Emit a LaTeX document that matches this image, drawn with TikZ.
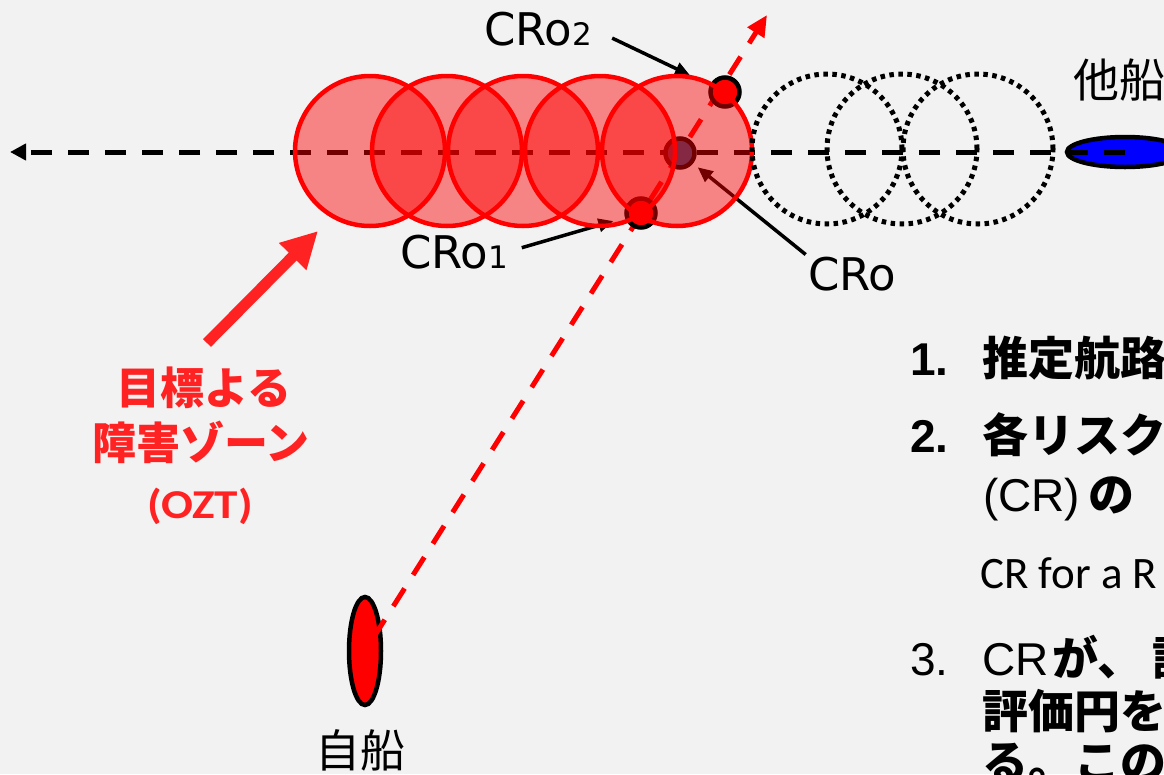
\documentclass[tikz,border=0pt]{standalone}
\usepackage{fontspec}
\usetikzlibrary{arrows.meta,shapes.geometric}
\newfontfamily\dvfont{DejaVu Sans}
\newfontfamily\libfont{Liberation Sans}
\newfontfamily\calfont{Carlito}
\newfontfamily\jpfont{Noto Sans CJK JP}
\definecolor{bgcol}{HTML}{F2F2F2}
\definecolor{oztcol}{RGB}{255,34,34}
\definecolor{crocol}{HTML}{1F497D}
\newcommand{\setfs}[1]{\fontsize{#1pt}{#1pt}\selectfont}
\begin{document}
\begin{tikzpicture}[x=1pt,y=-1pt,
  zone/.style={draw=red, line width=4.5pt, fill=red, fill opacity=0.45},
  ghost/.style={draw=black, line width=5pt, dash pattern=on 4.5pt off 4.5pt},
  track/.style={line width=5pt, dash pattern=on 21pt off 16pt},
  crmark/.style={circle, draw=black, line width=4.5pt, minimum size=29pt, inner sep=0pt, fill=red},
  lbl/.style={draw=black, line width=3.5pt, -{Triangle[length=15pt,width=13pt]}},
  ship/.style={ellipse, draw=black, line width=4.5pt, inner sep=0pt},
  txt/.style={inner sep=0pt, anchor=base west},
  cjkB/.style={font={\jpfont\bfseries\setfs{46}}},
  latB/.style={font={\libfont\bfseries\setfs{46}}},
  latR/.style={font={\libfont\setfs{46}}}]
\useasboundingbox (0,0) rectangle (1164,774);
\clip (0,0) rectangle (1164,774);
\fill[bgcol] (0,0) rectangle (1164,774);

% ships
\node[ship, fill=blue, minimum width=116pt, minimum height=30pt] (other) at (1125,152) {};
\node[ship, fill=red, minimum width=32pt, minimum height=108pt] (own) at (365,651) {};
\coordinate (ltip) at (10,152);
\coordinate (rtip) at (767,15);

% tracks
\draw[track, draw=black, -{Triangle[length=16pt,width=16pt]}] (other.center) -- (ltip);
\draw[track, draw=red, dash phase=21pt, -{Triangle[length=21pt,width=19pt]}] (own.center) -- (rtip);

% markers
\node[crmark] (cr2) at (725,92) {};
\node[crmark] (cr1) at (641,213) {};
\node[crmark, fill=crocol] (cr0) at (680,153) {};

% labels
\node[txt, font={\dvfont\setfs{45}}] (l2) at (484,45) {CRo{\setfs{31}2}};
\node[txt, font={\dvfont\setfs{45}}] (l1) at (400,268) {CRo{\setfs{31}1}};
\node[txt, font={\dvfont\setfs{45}}] (l0) at (808,290) {CRo};
\draw[lbl, shorten <=22pt, shorten >=22pt] (l2.east) -- (cr2);
\draw[lbl, shorten <=14pt, shorten >=12pt] (l1.east) -- (cr1);
\draw[lbl, shorten <=3pt, shorten >=6pt] (l0.north west) -- (cr0);

% obstacle zone circles
\foreach \cx in {370,447,523,600,677} \path[zone] (\cx,151) circle[radius=75pt];
\foreach \cx in {827,902,978} \draw[ghost] (\cx,149) circle[radius=75pt];

% ship names
\node[txt, font={\jpfont\setfs{46}}] (othername) at (1073,97) {他船};
\node[inner sep=0pt, anchor=base, font={\jpfont\setfs{45}}] (ownname) at (360,767) {自船};

% OZT label and arrow
\node[inner sep=0pt, anchor=base, text=oztcol, font={\jpfont\bfseries\setfs{44}}] (z1) at (204,404) {目標よる};
\node[inner sep=0pt, anchor=base, text=oztcol, font={\jpfont\bfseries\setfs{44}}] (z2) at (201,459) {障害ゾーン};
\node[inner sep=0pt, anchor=base, text=oztcol, font={\calfont\bfseries\setfs{41}}] (z3) at (200,518) {\scalebox{1.15}[1]{(OZT)}};
\coordinate (oztS) at (207,343);
\coordinate (oztE) at (318,231);
\draw[draw=oztcol, line width=11pt, -{Triangle[length=36pt,width=36pt]}] (oztS) -- (oztE);

% right text
\node[txt, latB] (n1) at (910,375) {1.};
\node[txt, cjkB] (t1) at (982,375) {推定航路};
\node[txt, latB] (n2) at (910,452) {2.};
\node[txt, cjkB] (t2) at (982,452) {各リスク};
\node[txt, latR] (t2b) at (983,511) {(CR)\kern 8pt{\jpfont\bfseries の}};
\node[txt, font={\calfont\setfs{45}}] (t2c) at (980,588) {CR for a R};
\node[txt, latR] (t3) at (982,675) {CR\kern 4pt{\jpfont\bfseries が、\kern 9pt 評}};
\node[txt, latR] (n3) at (910,675) {3.};
\node[txt, cjkB] (t3b) at (982,728) {評価円を};
\node[txt, cjkB] (t3c) at (982,779) {る。この};
\end{tikzpicture}
\end{document}
